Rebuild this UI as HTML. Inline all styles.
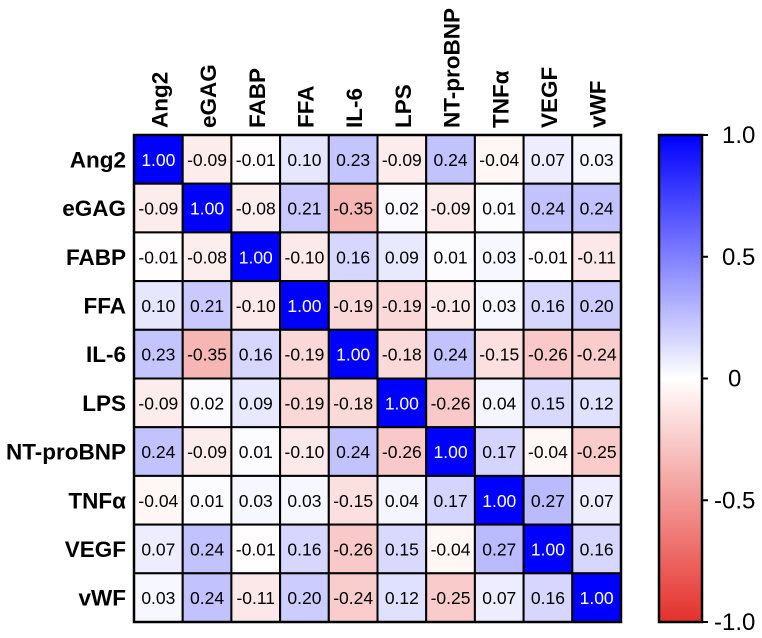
<!DOCTYPE html>
<html><head><meta charset="utf-8"><style>
body{margin:0;background:#fff;width:762px;height:633px;overflow:hidden;font-family:"Liberation Sans",Arial,sans-serif}
</style></head><body>
<svg id="chart" width="762" height="633">
<defs><linearGradient id="cb" x1="0" y1="0" x2="0" y2="1">
<stop offset="0" stop-color="#0000ff"/><stop offset="0.5" stop-color="#ffffff"/><stop offset="1" stop-color="#e5302a"/>
</linearGradient></defs>
<g id="cells"></g>
<rect x="659" y="135" width="43" height="487" fill="url(#cb)" stroke="#000" stroke-width="2.5"/>
<g id="cbticks" font-size="24" fill="#000"></g>
</svg>
<script>
const labels=["Ang2","eGAG","FABP","FFA","IL-6","LPS","NT-proBNP","TNFα","VEGF","vWF"];
const matrix=[
[1.00,-0.09,-0.01,0.10,0.23,-0.09,0.24,-0.04,0.07,0.03],
[-0.09,1.00,-0.08,0.21,-0.35,0.02,-0.09,0.01,0.24,0.24],
[-0.01,-0.08,1.00,-0.10,0.16,0.09,0.01,0.03,-0.01,-0.11],
[0.10,0.21,-0.10,1.00,-0.19,-0.19,-0.10,0.03,0.16,0.20],
[0.23,-0.35,0.16,-0.19,1.00,-0.18,0.24,-0.15,-0.26,-0.24],
[-0.09,0.02,0.09,-0.19,-0.18,1.00,-0.26,0.04,0.15,0.12],
[0.24,-0.09,0.01,-0.10,0.24,-0.26,1.00,0.17,-0.04,-0.25],
[-0.04,0.01,0.03,0.03,-0.15,0.04,0.17,1.00,0.27,0.07],
[0.07,0.24,-0.01,0.16,-0.26,0.15,-0.04,0.27,1.00,0.16],
[0.03,0.24,-0.11,0.20,-0.24,0.12,-0.25,0.07,0.16,1.00]];
const cbTicks=[1.0,0.5,0,-0.5,-1.0];
const cbTickLabels=["1.0","0.5","0","-0.5","-1.0"];
const NS="http://www.w3.org/2000/svg";
const x0=134,y0=135,W=487,H=487,n=labels.length,cw=W/n,ch=H/n;
function color(v){
  if(v>=0){const t=Math.min(v,1);return `rgb(${Math.round(255*(1-t))},${Math.round(255*(1-t))},255)`;}
  const t=Math.min(-v,1);return `rgb(${Math.round(255-t*(255-229))},${Math.round(255-t*(255-48))},${Math.round(255-t*(255-42))})`;
}
function cbY(v){return y0+(1-v)/2*H;}
const g=document.getElementById('cells');
function mk(tag,attrs){const e=document.createElementNS(NS,tag);for(const k in attrs)e.setAttribute(k,attrs[k]);return e;}
matrix.forEach((row,i)=>row.forEach((v,j)=>{
  const r=mk('rect',{x:x0+j*cw,y:y0+i*ch,width:cw,height:ch,fill:color(v),stroke:'#000','stroke-width':2});
  
  
  g.appendChild(r);
  const t=mk('text',{x:x0+j*cw+cw/2,y:y0+i*ch+ch/2+6.5,'text-anchor':'middle','font-size':17.5,fill:v>0.6?'#fff':'#000'});
  t.textContent=v.toFixed(2);
  
  
  g.appendChild(t);
}));
const b=mk('rect',{x:x0,y:y0,width:W,height:H,fill:'none',stroke:'#000','stroke-width':2.5});


g.appendChild(b);
labels.forEach((l,i)=>{
  const t=mk('text',{x:126,y:y0+i*ch+ch/2+8,'text-anchor':'end','font-size':22.5,'font-weight':'bold'});
  t.textContent=l;
  
  
  g.appendChild(t);
  const cx=x0+i*cw+cw/2+9,cy=128;
  const c=mk('text',{x:cx,y:cy,'font-size':22.5,'font-weight':'bold',transform:`rotate(-90 ${cx} ${cy})`});
  c.textContent=l;
  
  
  g.appendChild(c);
});
const tg=document.getElementById('cbticks');
cbTicks.forEach((v,i)=>{
  const y=cbY(v);
  const ln=mk('line',{x1:702,x2:708,y1:y,y2:y,stroke:'#000','stroke-width':2});
  
  
  tg.appendChild(ln);
  const t=mk('text',{x:v<0?714:722,y:y+8});
  if(v===0)t.setAttribute('x',728);
  t.textContent=cbTickLabels[i];
  
  
  tg.appendChild(t);
});
</script>
</body></html>
